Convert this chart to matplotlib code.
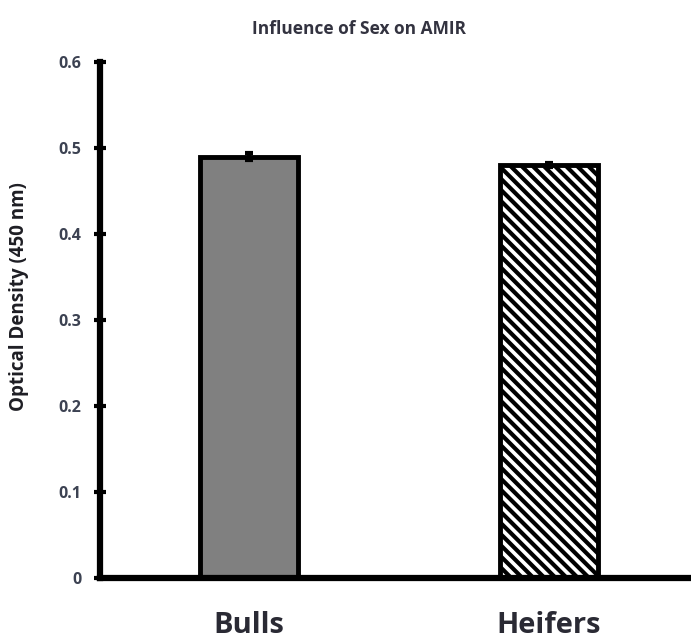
import matplotlib
matplotlib.use("Agg")
import matplotlib.pyplot as plt

categories = ["Bulls", "Heifers"]
values = [0.49, 0.48]
errors = [0.004, 0.002]
yticks = [0, 0.1, 0.2, 0.3, 0.4, 0.5, 0.6]
ytick_labels = ["0", "0.1", "0.2", "0.3", "0.4", "0.5", "0.6"]

plt.rcParams['font.family'] = ['Open Sans', 'DejaVu Sans']
plt.rcParams['hatch.linewidth'] = 3.0

fig = plt.figure(figsize=(6.91, 6.39), dpi=100)
ax = fig.add_axes([0.1447, 0.0955, 0.8553, 0.8075])

x = [0, 1]
bars = ax.bar(x, values, width=0.327, color=["#808080", "white"],
              edgecolor="black", linewidth=3.5, zorder=2)
bars[1].set_hatch("\\\\\\")
ax.errorbar(x, values, yerr=errors, fmt="none", ecolor="black",
            elinewidth=3, capsize=3, capthick=3, zorder=3)

ax.set_xlim(-0.497, 1.473)
ax.set_ylim(0, 0.6)
ax.set_yticks(yticks)
ax.set_yticklabels(ytick_labels, fontsize=11.5, fontweight="bold", color="#3c4252")
ax.set_xticks(x)
ax.set_xticklabels(categories, fontsize=21, fontweight="bold", color="#2a2a34")
ax.tick_params(axis="y", direction="inout", length=9, width=3, pad=9)
ax.tick_params(axis="x", length=0, pad=24)

for s in ["top", "right"]:
    ax.spines[s].set_visible(False)
for s in ["left", "bottom"]:
    ax.spines[s].set_linewidth(4.5)

ax.set_ylabel("Optical Density (450 nm)", fontsize=13.5, fontweight="bold",
              color="#1e1e24")
ax.yaxis.set_label_coords(-0.12, 0.546)
fig.text(0.52, 0.955, "Influence of Sex on AMIR", ha="center", va="center",
         fontsize=12.5, fontweight="bold", color="#333340")

fig.savefig("out.png", dpi=100)
